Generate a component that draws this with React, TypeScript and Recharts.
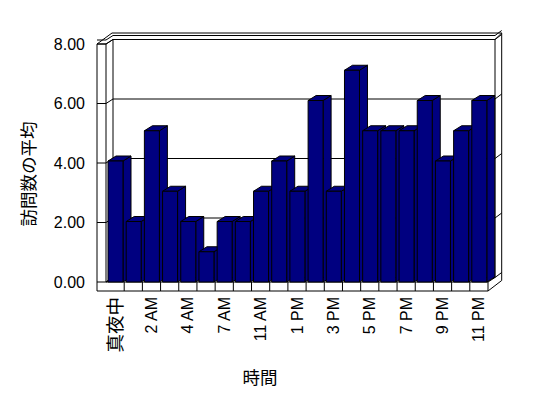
import React from 'react';
import { BarChart, Bar, Line, XAxis, YAxis, CartesianGrid, Customized } from 'recharts';

// ---- data ----
const categories = [
  '真夜中', '1 AM', '2 AM', '3 AM', '4 AM', '6 AM', '7 AM', '9 AM', '11 AM', '12 PM', '1 PM',
  '2 PM', '3 PM', '4 PM', '5 PM', '6 PM', '7 PM', '8 PM', '9 PM', '10 PM', '11 PM',
];
const visits = [4, 2, 5, 3, 2, 1, 2, 2, 3, 4, 3, 6, 3, 7, 5, 5, 5, 6, 4, 5, 6];
const yTicks = [0, 2, 4, 6, 8];
const yTitle = '訪問数の平均';
const xTitle = '時間';

const data = categories.map((hour, i) => ({ hour, visits: visits[i] }));

// ---- layout / style ----
const W = 548;
const H = 398;
const NAVY = '#000080';
const FONT = "'Liberation Sans', Arial, 'Noto Sans CJK JP', sans-serif";
const CJK = "'Noto Sans CJK JP', sans-serif";
const PL = 106; // plot left
const PR = 488; // plot right
const PB = 282; // plot bottom
const BAND = (PR - PL) / categories.length;
const WALL_OUT = 97;
const LABEL_END = 85;
const DX = 7; // wall depth x
const DY = 4.5; // wall depth y
const FLOOR_H = 9;
const RX = 6.7; // right wall thickness
const BAR_DX = 8;
const BAR_DY = 5;

const BarShape = (props: any) => {
  const { x, y, width, height } = props;
  if (height == null || width == null) return null;
  const front = `M${x},${y}h${width}v${height}h${-width}Z`;
  const top = `M${x},${y}l${BAR_DX},${-BAR_DY}h${width}l${-BAR_DX},${BAR_DY}Z`;
  const side = `M${x + width},${y}l${BAR_DX},${-BAR_DY}v${height}l${-BAR_DX},${BAR_DY}Z`;
  return (
    <g>
      <path d={side} fill={NAVY} stroke="#000" strokeWidth={1} />
      <path d={top} fill={NAVY} stroke="#000" strokeWidth={1} />
      <path d={front} fill={NAVY} stroke="#000" strokeWidth={1} />
    </g>
  );
};

const GridLine = (props: any) => {
  const { x1, x2, y1 } = props;
  const yb = y1 - DY;
  const d = `M${WALL_OUT},${y1}H${x1}L${x1 + DX},${yb}H${x2 + DX}L${x2 + DX + RX},${yb - 5}`;
  return <path key={props.key} d={d} stroke="#000" strokeWidth={1} fill="none" />;
};

const Frame = () => {
  const top = 44;
  const topB = top - DY;
  const outerTop = 33;
  const backB = PB - DY;
  const ln = { stroke: '#000', strokeWidth: 1, fill: 'none' };
  return (
    <g>
      <path d={`M${WALL_OUT},${PB + FLOOR_H}V${top}H${PL}V${PB}`} {...ln} />
      <path d={`M${WALL_OUT},${top}L${PL + DX - 1},${outerTop}H${PR + DX + RX}V${backB + 3}L${PR},${PB + FLOOR_H}`} {...ln} />
      <path d={`M${PL},${top}L${PL + DX},${topB}H${PR + DX}L${PR + DX + RX},${outerTop}`} {...ln} />
      <path d={`M${PL + DX},${topB}V${backB}`} {...ln} />
      <path d={`M${PR + DX},${topB}V${backB}L${PR},${PB}`} {...ln} />
      <path d={`M${WALL_OUT},${PB + FLOOR_H}H${PR}V${PB}H${PL}`} {...ln} />
      <path d={`M${PL},${PB}L${PL + DX},${backB}H${PR + DX}`} {...ln} />
      <text x={27} y={174} transform="rotate(-90 27 174)" textAnchor="middle" dominantBaseline="central"
        fontFamily={CJK} fontSize={17.5} fill="#000">{yTitle}</text>
      <text x={260} y={376} textAnchor="middle" dominantBaseline="central"
        fontFamily={CJK} fontSize={17.5} fill="#000">{xTitle}</text>
    </g>
  );
};

const CatTick = (props: any) => {
  const { x, y, payload, index } = props;
  const i = typeof index === 'number' ? index : categories.indexOf(payload.value);
  const sepX = x + BAND / 2;
  const isCjk = /[^\x00-\x7f]/.test(String(payload.value));
  return (
    <g>
      {i < categories.length - 1 && (
        <path d={`M${sepX},${PB}V${PB + FLOOR_H}`} stroke="#000" strokeWidth={1} />
      )}
      {i % 2 === 0 && (
        <text x={x} y={y} transform={`rotate(-90 ${x} ${y})`} textAnchor="end" dy="0.35em"
          fontFamily={isCjk ? CJK : FONT} fontSize={isCjk ? 18.5 : 16} fill="#000">{payload.value}</text>
      )}
    </g>
  );
};

const ValTick = (props: any) => {
  const { y, payload } = props;
  return (
    <text x={LABEL_END} y={y} textAnchor="end" dy="0.35em" fontFamily={FONT} fontSize={16} fill="#000">
      {Number(payload.value).toFixed(2)}
    </text>
  );
};

export default function App() {
  return (
    <div style={{ position: 'absolute', left: 0, top: 0, width: W, height: H, background: '#fff' }}>
      <BarChart width={W} height={H} data={data} margin={{ top: 40, right: W - PR, bottom: 46, left: 0 }}>
        <XAxis xAxisId="cat" dataKey="hour" interval={0} height={70} tickLine={false} axisLine={false}
          tickSize={0} tickMargin={15} tick={<CatTick />} />
        <YAxis yAxisId="front" type="number" domain={[0, 8.1345]} ticks={yTicks} width={PL}
          allowDataOverflow tickLine={false} axisLine={false} tick={<ValTick />} />
        <YAxis yAxisId="bars" type="number" domain={[0, 8]} hide />
        <CartesianGrid xAxisId="cat" yAxisId="front" horizontal={GridLine} vertical={false} />
        <Customized component={<Frame />} />
        <Line dataKey="visits" xAxisId="cat" yAxisId="front" stroke="none" dot={false} activeDot={false}
          isAnimationActive={false} />
        <Bar dataKey="visits" xAxisId="cat" yAxisId="bars" barSize={15} fill={NAVY}
          isAnimationActive={false} shape={BarShape} />
      </BarChart>
    </div>
  );
}
